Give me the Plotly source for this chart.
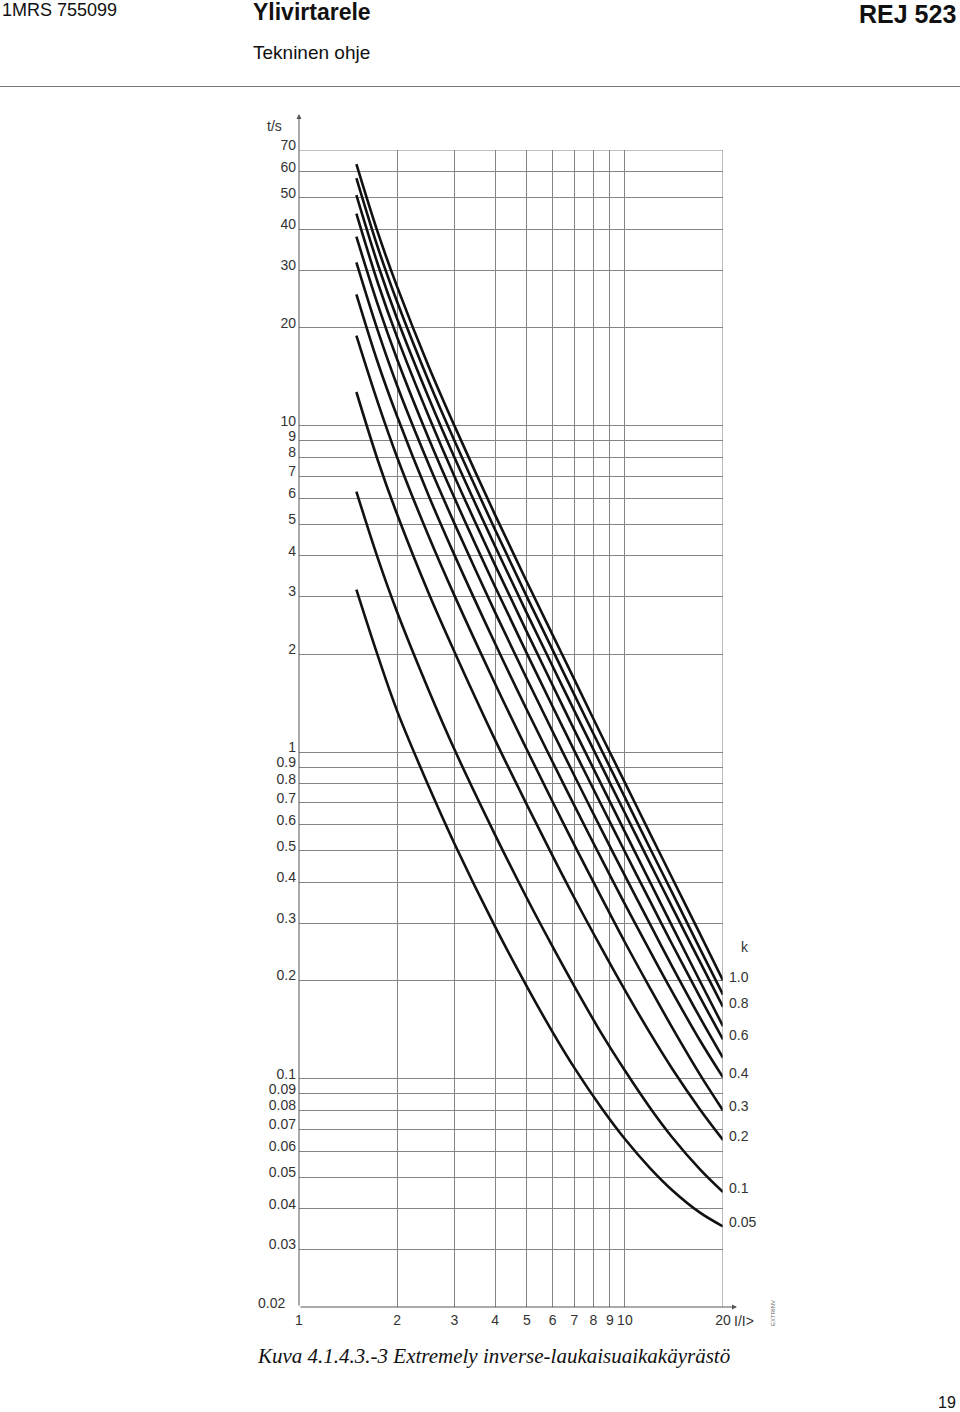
import numpy as np
import plotly.graph_objects as go

# ---- data ----
current_multiple = [1.5, 1.75, 2, 2.5, 3, 4, 5, 6, 7, 8.5, 10, 12, 14, 17, 20]  # I/I>
k_values = [1.0, 0.9, 0.8, 0.7, 0.6, 0.5, 0.4, 0.3, 0.2, 0.1, 0.05]
t_k100 = [63.4, 38.8, 26.7, 15.2, 10.0, 5.33, 3.33, 2.29, 1.67, 1.12, 0.808, 0.559, 0.410, 0.278, 0.200]
t_k090 = [57.4, 34.9, 24.0, 13.7, 9.0, 4.80, 3.00, 2.06, 1.50, 1.01, 0.728, 0.503, 0.370, 0.250, 0.181]
t_k080 = [50.9, 31.0, 21.3, 12.2, 8.0, 4.27, 2.67, 1.835, 1.34, 0.904, 0.652, 0.453, 0.334, 0.228, 0.166]
t_k070 = [44.7, 27.2, 18.7, 10.7, 7.0, 3.74, 2.34, 1.605, 1.17, 0.791, 0.571, 0.397, 0.292, 0.199, 0.145]
t_k060 = [38.0, 23.3, 16.0, 9.15, 6.01, 3.21, 2.01, 1.382, 1.01, 0.685, 0.496, 0.347, 0.257, 0.178, 0.132]
t_k050 = [31.7, 19.4, 13.3, 7.63, 5.02, 2.68, 1.68, 1.158, 0.848, 0.576, 0.419, 0.295, 0.220, 0.154, 0.116]
t_k040 = [25.3, 15.5, 10.7, 6.11, 4.02, 2.15, 1.35, 0.934, 0.687, 0.469, 0.343, 0.244, 0.184, 0.131, 0.101]
t_k030 = [18.9, 11.7, 8.02, 4.59, 3.02, 1.62, 1.02, 0.706, 0.520, 0.357, 0.262, 0.188, 0.143, 0.103, 0.080]
t_k020 = [12.7, 7.78, 5.36, 3.07, 2.03, 1.09, 0.692, 0.482, 0.358, 0.250, 0.187, 0.137, 0.107, 0.0806, 0.065]
t_k010 = [6.29, 3.90, 2.69, 1.55, 1.02, 0.558, 0.358, 0.254, 0.192, 0.137, 0.106, 0.081, 0.066, 0.0528, 0.045]
t_k005 = [3.15, 1.96, 1.34, 0.787, 0.525, 0.292, 0.192, 0.139, 0.108, 0.0811, 0.0654, 0.053, 0.0455, 0.0389, 0.0353]
curves = [t_k100, t_k090, t_k080, t_k070, t_k060, t_k050, t_k040, t_k030, t_k020, t_k010, t_k005]
k_labels = ["1.0", "", "0.8", "", "0.6", "", "0.4", "0.3", "0.2", "0.1", "0.05"]

x_ticks = [1, 2, 3, 4, 5, 6, 7, 8, 9, 10, 20]
y_ticks = [0.02, 0.03, 0.04, 0.05, 0.06, 0.07, 0.08, 0.09, 0.1, 0.2, 0.3, 0.4, 0.5,
           0.6, 0.7, 0.8, 0.9, 1, 2, 3, 4, 5, 6, 7, 8, 9, 10, 20, 30, 40, 50, 60, 70]
y_tick_text = ["" if v == 0.02 else str(v) for v in y_ticks]
X_MIN, X_MAX, Y_MIN, Y_MAX = 1, 20, 0.02, 70

# ---- layout geometry (pixels) ----
W, H = 960, 1412
L, R, T, B = 299, 723, 150, 1307
PW, PH = R - L, B - T


def px(x):
    return (x - L) / PW


def py(y):
    return (B - y) / PH


FONT = "Liberation Sans, Arial, sans-serif"
GRID = "#858585"
fig = go.Figure()

for k, t in zip(k_values, curves):
    fig.add_trace(go.Scatter(
        x=current_multiple, y=t, mode="lines", name=f"k={k}",
        line=dict(color="#111111", width=2.6, shape="spline", smoothing=1.0),
        hoverinfo="skip", showlegend=False))

annotations = []


def txt(x, y, text, size, anchor="left", color="#333", family=FONT, **kw):
    annotations.append(dict(x=px(x), y=py(y), xref="paper", yref="paper", text=text,
                            showarrow=False, xanchor=anchor, yanchor="middle",
                            font=dict(family=family, size=size, color=color), **kw))


# k labels at curve ends
for lab, t in zip(k_labels, curves):
    if lab:
        annotations.append(dict(x=px(727), xref="paper", y=np.log10(t[-1]), yref="y",
                                text=lab, showarrow=False, xanchor="left", yanchor="middle",
                                yshift=4, font=dict(family=FONT, size=14, color="#333")))
txt(745, 947, "k", 14, anchor="center")
# axis arrows
annotations.append(dict(x=0, y=py(114), xref="paper", yref="paper", ax=0, ay=B - 114,
                        showarrow=True, arrowhead=2, arrowsize=1, arrowwidth=1,
                        arrowcolor="#555", text=""))
annotations.append(dict(x=px(737), y=0, xref="paper", yref="paper", ax=-(737 - L), ay=0,
                        showarrow=True, arrowhead=2, arrowsize=1, arrowwidth=1,
                        arrowcolor="#555", text=""))
# axis titles and bottom-left tick label
txt(284, 126, "t/s", 14, anchor="right")
txt(287, 1303, str(Y_MIN), 14, anchor="right")
txt(732, 1321, "I/I>", 14)
txt(773, 1313, "EXTRINV", 6, anchor="center", color="#666", textangle=-90)
# page header / footer
txt(0, 10, "1MRS 755099", 18, color="#111")
txt(251, 12, "<b>Ylivirtarele</b>", 23, color="#111")
txt(958, 14, "<b>REJ 523</b>", 25, anchor="right", color="#111")
txt(251, 53, "Tekninen ohje", 19, color="#111")
txt(255, 1356, "<i>Kuva 4.1.4.3.-3 Extremely inverse-laukaisuaikakäyrästö</i>", 21,
    color="#111", family="Liberation Serif, Times New Roman, serif")
txt(958, 1402, "19", 16, anchor="right", color="#111")

shapes = [
    dict(type="line", xref="paper", yref="paper", x0=px(0), x1=px(960),
         y0=py(86.5), y1=py(86.5), line=dict(color="#777", width=1.2)),
    # top grid line (t = 70) and right grid line (I/I> = 20)
    dict(type="line", xref="paper", yref="y", x0=0, x1=1, y0=Y_MAX, y1=Y_MAX,
         line=dict(color=GRID, width=1.1)),
    dict(type="line", xref="x", yref="paper", x0=X_MAX, x1=X_MAX, y0=0, y1=1,
         line=dict(color=GRID, width=1.1)),
]

fig.update_layout(
    width=W, height=H,
    margin=dict(l=L, r=W - R, t=T, b=H - B, pad=0),
    paper_bgcolor="white", plot_bgcolor="white",
    showlegend=False,
    annotations=annotations, shapes=shapes,
    xaxis=dict(type="log", range=[np.log10(X_MIN), np.log10(X_MAX)], tickvals=x_ticks,
               ticktext=[str(v) for v in x_ticks], showgrid=True, gridcolor=GRID,
               gridwidth=1.1, zeroline=False, showline=False, ticks="",
               ticklabelstandoff=3,
               tickfont=dict(family=FONT, size=14, color="#333")),
    yaxis=dict(type="log", range=[np.log10(Y_MIN), np.log10(Y_MAX)], tickvals=y_ticks,
               ticktext=y_tick_text, showgrid=True, gridcolor=GRID, gridwidth=1.1,
               zeroline=False, showline=False, ticks="", ticklabelshift=-5,
               ticklabelstandoff=2,
               tickfont=dict(family=FONT, size=14, color="#333")),
)

fig.write_html("out.html", config={"displayModeBar": False},
               post_script="document.body.style.margin='0';")
